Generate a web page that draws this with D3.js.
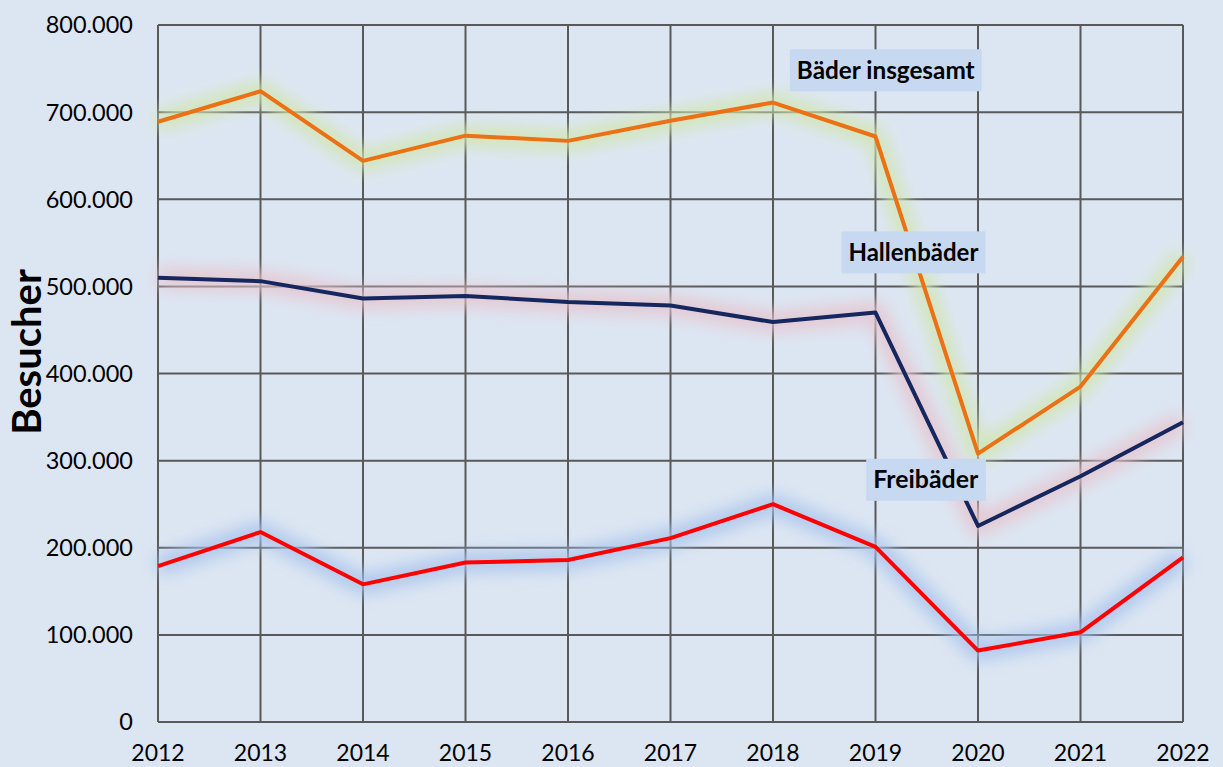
<!DOCTYPE html>
<html><head><meta charset="utf-8">
<script src="https://cdn.jsdelivr.net/npm/d3@7"></script>
<style>body{margin:0;background:#dce6f2;}svg{display:block;font-family:Lato,"Open Sans",sans-serif;}</style>
</head><body><svg id="c" width="1223" height="767"></svg>
<script>
const years = [2012,2013,2014,2015,2016,2017,2018,2019,2020,2021,2022];
const gesamt = [689000,724000,644000,673000,667000,690000,711000,672000,308000,385000,534000];
const hallen = [510000,506000,486000,489000,482000,478000,459000,470000,225000,282000,344000];
const frei   = [179000,218000,158000,183000,186000,211000,250000,201000,82000,103000,189000];
const yTicks = [0,100000,200000,300000,400000,500000,600000,700000,800000];
const labels = [
  {text:"Bäder insgesamt", year:2019.1, value:748000, w:178},
  {text:"Hallenbäder", year:2019.37, value:539000, w:130},
  {text:"Freibäder", year:2019.49, value:278000, w:105}
];
const svg = d3.select("#c");
svg.append("rect").attr("width",1223).attr("height",767).attr("fill","#dce6f2");
const x = d3.scaleLinear().domain([2012,2022]).range([158,1183]);
const y = d3.scaleLinear().domain([0,800000]).range([722,25]);
const defs = svg.append("defs");
const f = defs.append("filter").attr("id","glow").attr("x","-10%").attr("y","-50%").attr("width","120%").attr("height","200%");
f.append("feGaussianBlur").attr("stdDeviation",8);
const fmt = v => v===0 ? "0" : d3.format(",")(v).replace(/,/g,".");
// grid
svg.append("g").selectAll("line").data(yTicks).join("line")
  .attr("x1",x(2012)).attr("x2",x(2022)).attr("y1",d=>y(d)).attr("y2",d=>y(d))
  .attr("stroke","#595959").attr("stroke-width",2);
svg.append("g").selectAll("line").data(years).join("line")
  .attr("x1",d=>x(d)).attr("x2",d=>x(d)).attr("y1",y(0)).attr("y2",y(800000))
  .attr("stroke","#595959").attr("stroke-width",2);
// axes labels
svg.append("g").selectAll("text").data(yTicks).join("text")
  .attr("x",133).attr("y",d=>y(d)).attr("dy","0.36em").attr("text-anchor","end")
  .attr("font-size",23.5).attr("fill","#000").text(fmt);
svg.append("g").selectAll("text").data(years).join("text")
  .attr("x",d=>x(d)).attr("y",761).attr("text-anchor","middle")
  .attr("font-size",23).attr("fill","#000").text(d=>d);
svg.append("text").attr("transform","translate(41,352) rotate(-90)").attr("text-anchor","middle")
  .attr("font-size",40).attr("font-weight","bold").text("Besucher");
const line = d3.line().x((d,i)=>x(years[i])).y(d=>y(d));
const series = [
  {data:gesamt, color:"#ec7014", glow:"#d2e5ad"},
  {data:hallen, color:"#14285f", glow:"#e6c3cd"},
  {data:frei,   color:"#ff0000", glow:"#a8c3ec"}
];
series.forEach(s=>{
  svg.append("path").attr("d",line(s.data)).attr("fill","none").attr("stroke",s.glow)
    .attr("stroke-width",20).attr("stroke-linejoin","round").attr("filter","url(#glow)").attr("opacity",0.85);
});
series.forEach(s=>{
  svg.append("path").attr("d",line(s.data)).attr("fill","none").attr("stroke",s.color)
    .attr("stroke-width",4).attr("stroke-linejoin","round");
});
labels.forEach(l=>{
  const g = svg.append("g");
  const t = g.append("text").attr("x",x(l.year)).attr("y",y(l.value)).attr("dy","0.35em")
    .attr("text-anchor","middle").attr("font-size",24).attr("font-weight","bold").text(l.text);
  const len = t.node().getComputedTextLength();
  t.attr("font-size",24*l.w/len);
  const b = t.node().getBBox();
  g.insert("rect","text").attr("x",b.x-7).attr("y",y(l.value)-21).attr("width",b.width+14).attr("height",42)
    .attr("fill","#c6d9f1");
});
</script></body></html>
